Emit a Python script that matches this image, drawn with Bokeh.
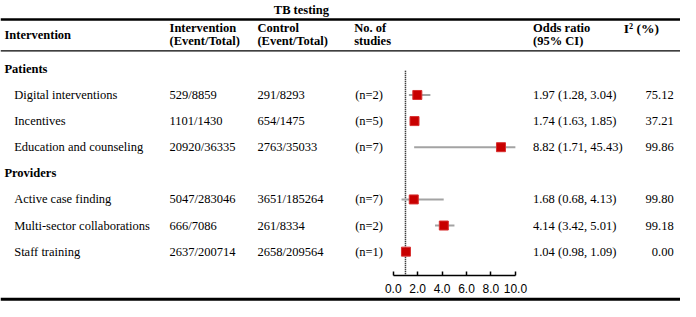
from bokeh.plotting import figure
from bokeh.models import Range1d, LinearAxis, FixedTicker, Span, ColumnDataSource, NumeralTickFormatter
from bokeh.embed import file_html
from bokeh.resources import INLINE
from bokeh.core.properties import value
import numpy as np

# ---------------- data ----------------
title = "TB testing"
groups = ["Patients", "Providers"]
interventions = ["Digital interventions", "Incentives", "Education and counseling",
                 "Active case finding", "Multi-sector collaborations", "Staff training"]
group_index = [0, 0, 0, 1, 1, 1]
interv_events = ["529/8859", "1101/1430", "20920/36335", "5047/283046", "666/7086", "2637/200714"]
control_events = ["291/8293", "654/1475", "2763/35033", "3651/185264", "261/8334", "2658/209564"]
n_studies = [2, 5, 7, 7, 2, 1]
or_est = [1.97, 1.74, 8.82, 1.68, 4.14, 1.04]
or_lo = [1.28, 1.63, 1.71, 0.68, 3.42, 0.98]
or_hi = [3.04, 1.85, 45.43, 4.13, 5.01, 1.09]
i2 = [75.12, 37.21, 99.86, 99.80, 99.18, 0.00]
tick_values = [0, 2, 4, 6, 8, 10]
null_value = 1.0

# ---------------- layout (reference pixel units) ----------------
REF_W, REF_H = 696, 317
AXIS_Y = 290
X_OR0, PX_PER_UNIT = 402, 12.5
COL_NAME, COL_GROUP, COL_INT, COL_CTL, COL_N, COL_OR, COL_I2 = 14, 4, 173, 263, 363, 545, 689
ROW0, ROW_STEP = 72, 27.5
FONT = "Liberation Serif"
FS = "12.5px"

ys_rows = []
ys_groups = []
slot = 0
for g in range(len(groups)):
    ys_groups.append(ROW0 + slot * ROW_STEP)
    slot += 1
    for i, gi in enumerate(group_index):
        if gi == g:
            ys_rows.append(ROW0 + slot * ROW_STEP)
            slot += 1

ax_max = max(tick_values)
src = ColumnDataSource(dict(
    y=ys_rows,
    name=interventions,
    ie=interv_events,
    ce=control_events,
    n=[f"(n={k})" for k in n_studies],
    ortxt=[f"{e:.2f} ({l:.2f}, {h:.2f})" for e, l, h in zip(or_est, or_lo, or_hi)],
    i2=[f"{v:.2f}" for v in i2],
    est=or_est,
    lo=or_lo,
    hi=list(np.minimum(np.array(or_hi), ax_max)),
))

or_start = -X_OR0 / PX_PER_UNIT
or_end = (REF_W - X_OR0) / PX_PER_UNIT

p = figure(width=680, height=301, x_range=Range1d(0, REF_W), y_range=Range1d(REF_H, 0),
           output_backend="svg", toolbar_location=None,
           x_axis_location=None, y_axis_location=None,
           min_border_left=0, min_border_right=0, min_border_top=0, min_border_bottom=0)
p.extra_x_ranges = {"or": Range1d(or_start, or_end)}
p.grid.visible = False
p.outline_line_color = None
p.background_fill_color = "white"
p.border_fill_color = "white"

# rules
p.add_layout(Span(location=20, dimension="width", line_color="black", line_width=2.5))
p.add_layout(Span(location=53, dimension="width", line_color="black", line_width=1.3))
p.add_layout(Span(location=314.5, dimension="width", line_color="black", line_width=3))

def txt(x, y, t, bold=False, align="left", size=FS):
    p.text(x=[x], y=[y], text=[t], text_font=value(FONT), text_font_size=size,
           text_font_style="bold" if bold else "normal", text_align=align,
           text_baseline="middle", text_color="black")

# headers
txt(308, 9.5, title, bold=True, align="center")
txt(COL_GROUP, 36, "Intervention", bold=True)
txt(COL_INT, 29, "Intervention", bold=True)
txt(COL_INT, 43, "(Event/Total)", bold=True)
txt(COL_CTL, 29, "Control", bold=True)
txt(COL_CTL, 43, "(Event/Total)", bold=True)
txt(COL_N - 1, 29, "No. of", bold=True)
txt(COL_N - 1, 43, "studies", bold=True)
txt(COL_OR, 29, "Odds ratio", bold=True)
txt(COL_OR, 43, "(95% CI)", bold=True)
txt(638, 29, "I² (%)", bold=True, size="13.5px")

for gname, gy in zip(groups, ys_groups):
    txt(COL_GROUP, gy, gname, bold=True)

common = dict(source=src, text_font=value(FONT), text_font_size=FS, text_baseline="middle", text_color="black")
p.text(x=COL_NAME, y="y", text="name", **common)
p.text(x=COL_INT, y="y", text="ie", **common)
p.text(x=COL_CTL, y="y", text="ce", **common)
p.text(x=COL_N, y="y", text="n", **common)
p.text(x=COL_OR, y="y", text="ortxt", **common)
p.text(x=COL_I2, y="y", text="i2", text_align="right", **common)

# forest
p.segment(x0=[null_value], x1=[null_value], y0=[ys_groups[0] + 2], y1=[AXIS_Y],
          x_range_name="or", line_color="black", line_width=1.5, line_dash="1 1")
p.segment(x0="lo", x1="hi", y0="y", y1="y", source=src, x_range_name="or",
          line_color="#A3A3A3", line_width=2)
p.scatter(x="est", y="y", source=src, x_range_name="or", marker="square", size=9,
          fill_color="#C80000", line_color="#D83030", line_width=1)

ax = LinearAxis(x_range_name="or", bounds=(0, ax_max), ticker=FixedTicker(ticks=tick_values),
                formatter=NumeralTickFormatter(format="0.0"), fixed_location=AXIS_Y,
                major_tick_in=4, major_tick_out=0, minor_tick_line_color=None,
                axis_line_width=1.5, major_tick_line_width=1.5,
                axis_line_color="black", major_tick_line_color="black",
                major_label_text_font="Liberation Sans", major_label_text_font_size="12px",
                major_label_text_color="black", major_label_standoff=8)
p.add_layout(ax, "below")

open("out.html", "w").write(file_html(p, INLINE))
